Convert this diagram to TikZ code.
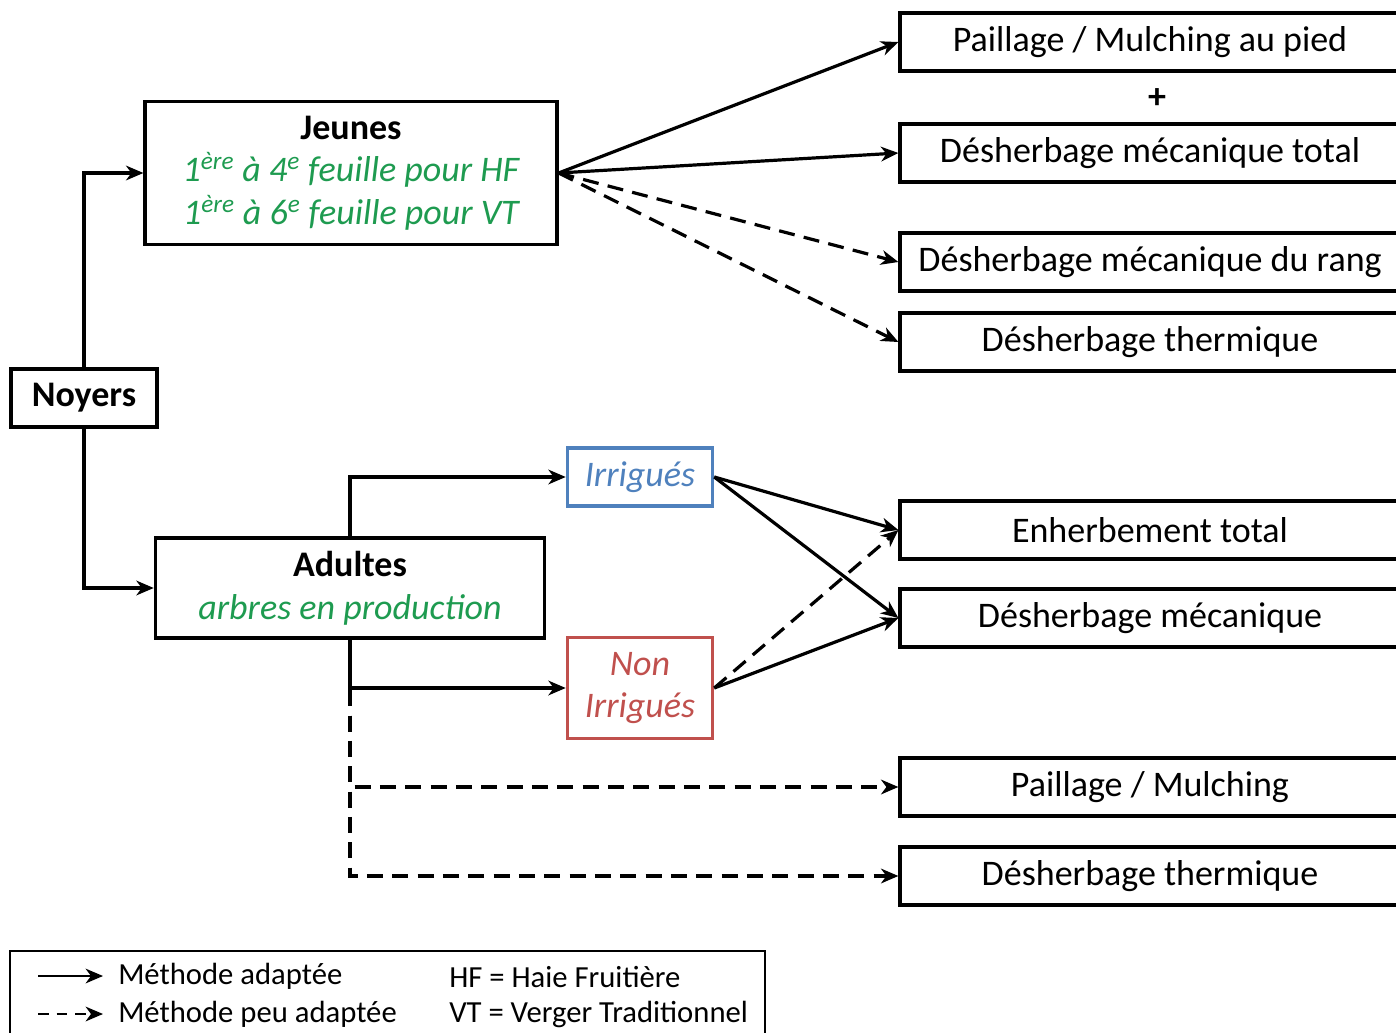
\documentclass[tikz,border=0pt]{standalone}
\usepackage{fontspec}
\setmainfont{Carlito}
\usetikzlibrary{arrows.meta}
\definecolor{vert}{RGB}{30,155,80}
\definecolor{bleu}{RGB}{79,129,189}
\definecolor{rouge}{RGB}{192,80,77}
\begin{document}
\begin{tikzpicture}[x=0.75pt,y=-0.75pt,
  >={Stealth[length=13pt,width=11pt,inset=4pt]},
  boite/.style={draw, line width=2.4pt, inner sep=0pt, align=center, font=\fontsize{27}{32}\selectfont},
  methode/.style={boite, minimum width=375pt, minimum height=43.5pt},
  fleche/.style={->, line width=2.4pt},
  tirets/.style={fleche, dash pattern=on 12pt off 7pt},
  legende/.style={anchor=west, inner sep=0pt, font=\fontsize{23}{28}\selectfont}]
\useasboundingbox (0,0) rectangle (1396,1032);
\node[boite, minimum width=109.5pt, minimum height=43.5pt, font=\fontsize{27}{32}\selectfont\bfseries] (noyers) at (84,398){Noyers};
\node[boite, minimum width=309pt, minimum height=107pt] (jeunes) at (351,173){\textbf{Jeunes}\\
  \textcolor{vert}{\itshape 1\textsuperscript{ère} à 4\textsuperscript{e} feuille pour HF}\\
  \textcolor{vert}{\itshape 1\textsuperscript{ère} à 6\textsuperscript{e} feuille pour VT}};
\node[boite, minimum width=292pt, minimum height=75pt] (adultes) at (350,588){\textbf{Adultes}\\
  \textcolor{vert}{\itshape arbres en production}};
\node[boite, draw=bleu, text=bleu, font=\fontsize{27}{32}\selectfont\itshape, minimum width=109pt, minimum height=43.5pt] (irr) at (640,477){Irrigués};
\node[boite, draw=rouge, text=rouge, font=\fontsize{27}{32}\selectfont\itshape, minimum width=109pt, minimum height=76pt] (nonirr) at (640,688){Non\\Irrigués};
% methodes
\node[methode] (paillpied) at (1150,42){Paillage / Mulching au pied};
\node[font=\fontsize{27}{32}\selectfont\bfseries] (plus) at (1157,99){+};
\node[methode] (desmecatot) at (1150,153){Désherbage mécanique total};
\node[methode] (desmecarang) at (1150,262){Désherbage mécanique du rang};
\node[methode] (desthermA) at (1150,342){Désherbage thermique};
\node[methode] (enherb) at (1150,530){Enherbement total};
\node[methode] (desmeca) at (1150,618){Désherbage mécanique};
\node[methode] (paill) at (1150,787){Paillage / Mulching};
\node[methode] (desthermB) at (1150,876){Désherbage thermique};
% connecteurs
\draw[fleche](noyers) |- (jeunes);
\draw[fleche](noyers) |- (adultes);
\draw[fleche](jeunes.east) -- (paillpied.west);
\draw[fleche](jeunes.east) -- (desmecatot.west);
\draw[tirets](jeunes.east) -- (desmecarang.west);
\draw[tirets](jeunes.east) -- (desthermA.west);
\draw[tirets](adultes) |- (paill);
\draw[tirets](adultes) |- (desthermB);
\draw[fleche](adultes) |- (irr);
\draw[fleche](adultes) |- (nonirr);
\draw[fleche](irr.east) -- (enherb.west);
\draw[fleche](irr.east) -- (desmeca.west);
\draw[tirets](nonirr.east) -- (enherb.west);
\draw[fleche](nonirr.east) -- (desmeca.west);
% legende
\draw[line width=1.2pt] (10,1045) |- (765,951) -- (765,1045);
\coordinate (legA1) at (38,976);
\coordinate (legA2) at (103,976);
\coordinate (legB1) at (38,1014);
\coordinate (legB2) at (103,1014);
\draw[fleche, line width=1.8pt](legA1) -- (legA2);
\draw[tirets, line width=1.8pt, dash pattern=on 8pt off 6pt](legB1) -- (legB2);
\node[legende] (adaptee) at (118,976){Méthode adaptée};
\node[legende] (peuadaptee) at (118,1014){Méthode peu adaptée};
\node[legende] (hf) at (449,977){HF = Haie Fruitière};
\node[legende] (vt) at (449,1014){VT = Verger Traditionnel};
\end{tikzpicture}
\end{document}
